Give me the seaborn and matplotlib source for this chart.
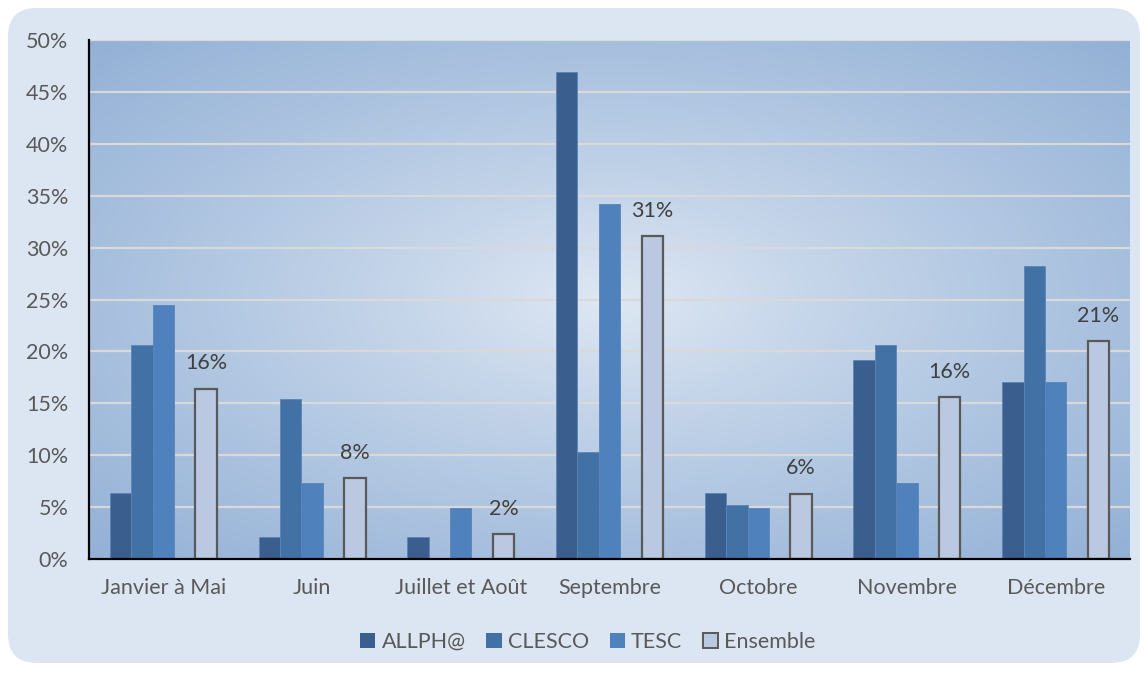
import numpy as np
import pandas as pd
import matplotlib
matplotlib.use("Agg")
import matplotlib.pyplot as plt
import seaborn as sns
from matplotlib.patches import FancyBboxPatch, Patch
from matplotlib.colors import to_rgb

# data (percent)
months = ["Janvier à Mai", "Juin", "Juillet et Août", "Septembre",
          "Octobre", "Novembre", "Décembre"]
allph = [6.4, 2.1, 2.1, 46.9, 6.4, 19.2, 17.1]
clesco = [20.6, 15.4, 0.0, 10.3, 5.2, 20.6, 28.2]
tesc = [24.5, 7.3, 4.9, 34.2, 4.9, 7.3, 17.1]
ensemble = [16.4, 7.8, 2.4, 31.1, 6.3, 15.6, 21.0]
yticks = [0, 5, 10, 15, 20, 25, 30, 35, 40, 45, 50]

series = ["ALLPH@", "CLESCO", "TESC", "_gap", "Ensemble"]
colors = ["#3a5f8e", "#4271a6", "#4f81bd", "#ffffff", "#bac9e1"]

rows = []
for name, vals in zip(series, [allph, clesco, tesc, [0] * 7, ensemble]):
    for m, v in zip(months, vals):
        rows.append({"Mois": m, "Serie": name, "Valeur": v})
df = pd.DataFrame(rows)

sns.set_style("white")
plt.rcParams['font.family'] = ['Lato', 'DejaVu Sans']
txt = "#595959"

fig = plt.figure(figsize=(11.45, 6.73), dpi=100)
fig.patch.set_facecolor("white")
panel = FancyBboxPatch((8 / 1145, 10 / 673), 1132 / 1145, 655 / 673,
                       boxstyle="round,pad=0,rounding_size=0.025",
                       transform=fig.transFigure, facecolor="#dce6f2",
                       edgecolor="none", zorder=-10, mutation_aspect=1145 / 673)
fig.patches.append(panel)

ax = fig.add_axes([89 / 1145, 114 / 673, 1041 / 1145, 519 / 673])

# radial background of the plot area
xx, yy = np.meshgrid(np.linspace(-1, 1, 300), np.linspace(-1, 1, 200))
r = np.clip(np.sqrt(xx ** 2 + yy ** 2) / np.sqrt(2), 0, 1)
c0 = np.array(to_rgb("#e0e9f4"))
c1 = np.array(to_rgb("#93b1d6"))
img = c0 + (c1 - c0) * r[..., None] ** 0.85
ax.imshow(img, extent=[0, 1, 0, 1], transform=ax.transAxes, aspect="auto",
          zorder=0, interpolation="bilinear")

sns.barplot(data=df, x="Mois", y="Valeur", hue="Serie", hue_order=series,
            palette=colors, width=0.72, gap=0, saturation=1, legend=False,
            errorbar=None, ax=ax, zorder=3, linewidth=0)

for bar in ax.containers[3]:
    bar.set_visible(False)
for cont in ax.containers[:3]:
    for bar in cont:
        bar.set_edgecolor("#5d84b8")
        bar.set_linewidth(0.6)
for bar in ax.containers[4]:
    bar.set_edgecolor("#595959")
    bar.set_linewidth(1.6)

ax.bar_label(ax.containers[4], labels=[f"{v:.0f}%" for v in ensemble],
             padding=11, fontsize=15.5, color="#404040")

ax.set_xlim(-0.5, 6.5)
ax.set_ylim(0, 50)
ax.set_yticks(yticks)
ax.set_yticklabels([f"{t}%" for t in yticks])
ax.yaxis.grid(True, color="#d9d9d9", linewidth=1.6, zorder=1)
ax.set_axisbelow(False)
for gl in ax.get_ygridlines():
    gl.set_zorder(1)
ax.set_xlabel("")
ax.set_ylabel("")
ax.tick_params(axis="both", length=0, labelsize=15.5, colors=txt)
ax.tick_params(axis="x", pad=14)
ax.tick_params(axis="y", pad=15)
for s in ["top", "right"]:
    ax.spines[s].set_visible(False)
for s in ["left", "bottom"]:
    ax.spines[s].set_color("black")
    ax.spines[s].set_linewidth(1.6)
    ax.spines[s].set_zorder(5)

handles = [Patch(facecolor=colors[0], edgecolor="none"),
           Patch(facecolor=colors[1], edgecolor="none"),
           Patch(facecolor=colors[2], edgecolor="none"),
           Patch(facecolor=colors[4], edgecolor="#595959", linewidth=1.4)]
leg = fig.legend(handles, ["ALLPH@", "CLESCO", "TESC", "Ensemble"],
                 loc="center", bbox_to_anchor=(588 / 1145, 1 - 642 / 673),
                 ncol=4, frameon=False, fontsize=15.5, handlelength=0.7,
                 handleheight=0.7, handletextpad=0.3, columnspacing=0.95)
for t in leg.get_texts():
    t.set_color(txt)

fig.savefig("out.png", dpi=100)
